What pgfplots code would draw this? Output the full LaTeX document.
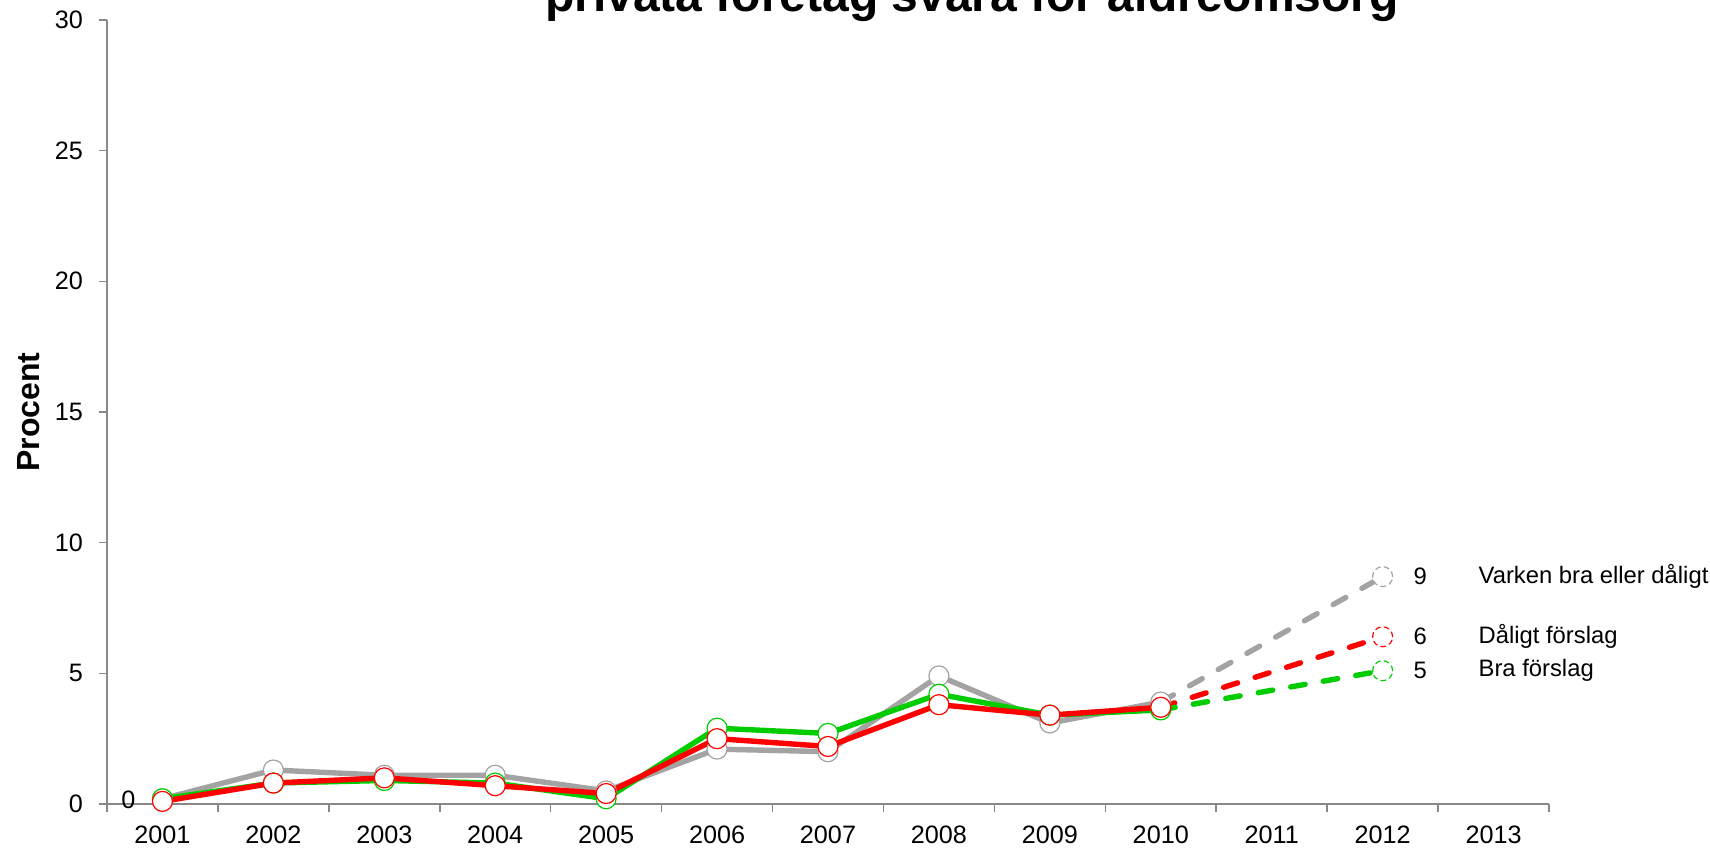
\documentclass[border=0pt]{standalone}
\usepackage{fontspec}
\setmainfont{Liberation Sans}
\usepackage{pgfplots}
\pgfplotsset{compat=1.18}
\definecolor{cgray}{HTML}{A3A3A3}
\definecolor{cgreen}{HTML}{00CC00}
\definecolor{cred}{HTML}{FF0000}
\definecolor{caxis}{HTML}{888888}

\begin{document}
\begin{tikzpicture}
\begin{axis}[
    at={(53.5pt,22.5pt)}, anchor=south west,
    scale only axis, width=721pt, height=392pt,
    xmin=0.5, xmax=13.5, ymin=0, ymax=30,
    axis x line*=bottom, axis y line*=left,
    axis line style={caxis, line width=0.8pt},
    xtick={1,...,13},
    xticklabels={2001,2002,2003,2004,2005,2006,2007,2008,2009,2010,2011,2012,2013},
    major x tick style={draw=none},
    minor xtick={0.5,1.5,...,13.5},
    ytick={0,5,...,30},
    tick align=outside,
    tick style={caxis, line width=0.8pt},
    major tick length=3.8pt, minor tick length=3.8pt,
    font=\fontsize{11.9}{14}\selectfont,
    tick label style={font=\fontsize{12.6}{15}\selectfont},
    xticklabel style={yshift=-3.5pt},
    yticklabel style={xshift=-4.7pt},
    /pgf/number format/assume math mode=true,
    ylabel={Procent},
    ylabel style={font=\fontsize{16}{19}\selectfont\bfseries,
        at={(axis description cs:-0.054,0.5)}, anchor=center},
    clip=false,
]

% prognos (streckad)
\addplot[cgray, line width=2.7pt, line cap=round, dash pattern=on 7.3pt off 9.2pt,
    mark=*, mark indices={2}, mark size=5pt,
    mark options={solid, fill=white, draw=cgray, line width=0.6pt, dash pattern=on 2.5pt off 2pt}]
    coordinates {(10,3.9) (12,8.7)};
\addplot[cred, line width=2.7pt, line cap=round, dash pattern=on 7.3pt off 9.2pt,
    mark=*, mark indices={2}, mark size=5pt,
    mark options={solid, fill=white, draw=cred, line width=0.6pt, dash pattern=on 2.5pt off 2pt}]
    coordinates {(10,3.7) (12,6.4)};
\addplot[cgreen, line width=2.7pt, line cap=round, dash pattern=on 7.3pt off 9.2pt,
    mark=*, mark indices={2}, mark size=5pt,
    mark options={solid, fill=white, draw=cgreen, line width=0.6pt, dash pattern=on 2.5pt off 2pt}]
    coordinates {(10,3.6) (12,5.1)};

% Varken bra eller dåligt
\addplot[cgray, line width=2.7pt, mark=*, mark size=5pt,
    mark options={fill=white, draw=cgray, line width=0.6pt}]
    coordinates {(1,0.2) (2,1.3) (3,1.1) (4,1.1) (5,0.5) (6,2.1) (7,2.0) (8,4.9) (9,3.1) (10,3.9)};
% Bra förslag
\addplot[cgreen, line width=2.7pt, mark=*, mark size=5pt,
    mark options={fill=white, draw=cgreen, line width=0.6pt}]
    coordinates {(1,0.2) (2,0.8) (3,0.9) (4,0.8) (5,0.2) (6,2.9) (7,2.7) (8,4.2) (9,3.4) (10,3.6)};
% Dåligt förslag
\addplot[cred, line width=2.7pt, mark=*, mark size=5pt,
    mark options={fill=white, draw=cred, line width=0.6pt}]
    coordinates {(1,0.1) (2,0.8) (3,1.0) (4,0.7) (5,0.4) (6,2.5) (7,2.2) (8,3.8) (9,3.4) (10,3.7)};

\node[font=\fontsize{12.6}{15}\selectfont] at (axis cs:1,0.15) [xshift=-17pt] {0};
\node[anchor=west] at (axis cs:12,8.7) [xshift=12pt] {9};
\node[anchor=west] at (axis cs:12,6.4) [xshift=12pt] {6};
\node[anchor=west] at (axis cs:12,5.1) [xshift=12pt] {5};
\node[anchor=west] at (axis cs:12,8.7) [xshift=44.5pt] {Varken bra eller dåligt};
\node[anchor=west] at (axis cs:12,6.4) [xshift=44.5pt] {Dåligt förslag};
\node[anchor=west] at (axis cs:12,5.1) [xshift=44.5pt] {Bra förslag};
\end{axis}
\node[anchor=base, font=\fontsize{24}{28}\selectfont\bfseries] at (486pt,418.5pt)
    {privata företag svara för äldreomsorg};
\pgfresetboundingbox
\useasboundingbox (0pt,0pt) rectangle (855pt,424.5pt);
\end{tikzpicture}
\end{document}
